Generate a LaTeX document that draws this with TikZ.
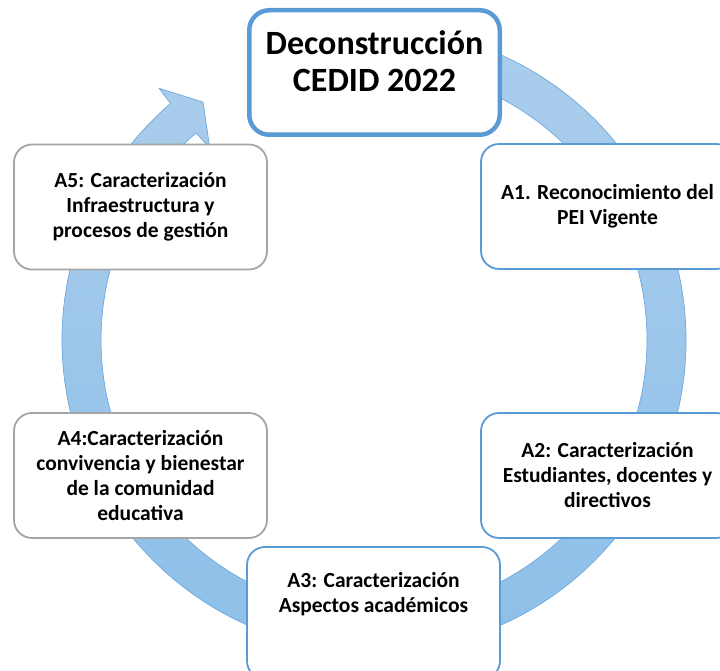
\documentclass[tikz,border=0pt]{standalone}
\usepackage{fontspec}
\setmainfont{Carlito}
\usetikzlibrary{positioning, calc}
\definecolor{ringtop}{RGB}{172,206,236}
\definecolor{ringbot}{RGB}{140,191,233}
\definecolor{ringedge}{RGB}{112,168,219}
\definecolor{boxblue}{RGB}{91,155,213}
\definecolor{boxgray}{RGB}{165,165,165}

\begin{document}
\begin{tikzpicture}[x=1pt, y=1pt,
  ring/.style={draw=ringedge, line width=0.7pt, top color=ringtop, bottom color=ringbot},
  hub/.style={draw=boxblue, line width=4.5pt, fill=white, rounded corners=20pt,
              minimum width=250.5pt, minimum height=124.5pt, inner sep=0pt},
  stage/.style={draw=boxblue, line width=1.8pt, fill=white, rounded corners=18pt,
                minimum width=253pt, minimum height=125pt, inner sep=0pt, align=center,
                font=\fontsize{21.5}{25}\selectfont\bfseries},
  stagegray/.style={stage, draw=boxgray},
  hubtxt/.style={align=center, inner sep=0pt, font=\fontsize{34}{37}\selectfont\bfseries},
  lbl/.style={align=center, inner sep=0pt, font=\fontsize{21.5}{25}\selectfont\bfseries}
]
\useasboundingbox (0,0) rectangle (720,671);
\clip (0,0) rectangle (720,671);

% circular arrow behind the boxes
\begin{scope}[shift={(374,331)}]
\path[ring] (100:312) arc[start angle=100, end angle=-229.3, radius=312]
  -- (-229.5:331) -- (-234.3:293) -- (-229.5:253) -- (-229.3:273)
  arc[start angle=-229.3, end angle=100, radius=273] -- cycle;
\end{scope}

% title
\node[hub] (deco) at (374.5,598.5) {};
\node[hubtxt] (decotxt) at ([yshift=11pt]deco.center) {Deconstrucción\\CEDID 2022};

% stages
\node[stage] (a1) at (607.5,464.5) {A1. Reconocimiento del\\PEI Vigente};
\node[stage] (a2) at (607.5,195.5) {A2: Caracterización\\Estudiantes, docentes y\\directivos};
\node[stage, minimum height=132pt] (a3) at (373.5,58) {};
\node[lbl] (a3txt) at ([yshift=-48pt]a3.north) {A3: Caracterización\\Aspectos académicos};
\node[stagegray] (a4) at (140.5,195.5) {A4:Caracterización\\convivencia y bienestar\\de la comunidad\\educativa};
\node[stagegray] (a5) at (140.5,464) {A5: Caracterización\\Infraestructura y\\procesos de gestión};
\end{tikzpicture}
\end{document}
